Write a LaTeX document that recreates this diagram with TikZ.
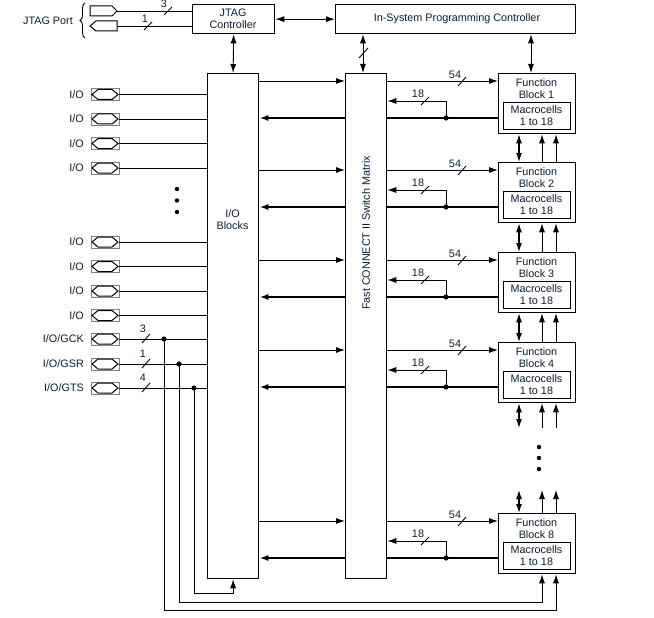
\documentclass[tikz,border=0pt]{standalone}
\usepackage{fontspec}
\setmainfont{Liberation Sans}
\usetikzlibrary{arrows.meta,decorations.pathreplacing,calc}
\definecolor{txtc}{RGB}{20,25,50}
\begin{document}
\begin{tikzpicture}[x=1pt,y=-1pt,
  txt/.style={font=\fontsize{10.8}{12}\selectfont, text=txtc, inner sep=0pt},
  box/.style={draw, line width=1.3pt, rectangle, inner sep=0pt, anchor=north west},
  thinl/.style={line width=0.9pt},
  thickl/.style={line width=1.9pt},
  arr/.style={-{Latex[length=9pt,width=6pt]}},
  barr/.style={{Latex[length=9pt,width=6pt]}-{Latex[length=9pt,width=6pt]}},
  slash/.style={line width=0.9pt},
  iopad/.pic={
    \draw[gray, line width=0.7pt] (-14,-6) rectangle (14,6);
    \draw[line width=1pt] (-13,0) -- (-7,-5) -- (7,-5) -- (13,0) -- (7,5) -- (-7,5) -- cycle;
  }
]
\fill[white] (0,0) rectangle (654,618);
\useasboundingbox (0,0) rectangle (654,618);

% main blocks
\node[box, minimum width=82pt, minimum height=29pt] (JTAG) at (192,4) {};
\node[txt, align=center] (JTAGt) at (233,19) {JTAG\\Controller};
\node[box, minimum width=240pt, minimum height=29pt] (ISP) at (335,4) {};
\node[txt] (ISPt) at (457,18.5) {In-System Programming Controller};
\node[box, minimum width=51pt, minimum height=505pt] (IOB) at (207,73) {};
\node[txt, align=center] (IOBt) at (232.5,220) {I/O\\Blocks};
\node[box, minimum width=41pt, minimum height=505pt] (SWM) at (345,73) {};
\node[txt, rotate=90] (SWMt) at (366,233) {Fast CONNECT II Switch Matrix};

% helper coordinates
\coordinate (vA) at (519,0);
\coordinate (vB) at (542,0);
\coordinate (vC) at (556,0);
\coordinate (vI) at (531,0);
\coordinate (vS) at (363,0);

% JTAG / ISP connections
\draw[thinl,barr] (JTAG.east) -- (ISP.west |- JTAG.east);
\draw[thinl,barr] (JTAG.south) -- (IOB.north);
\draw[thinl,barr] (ISP.south -| vS) -- (SWM.north -| vS);
\draw[slash] (359,58) -- (368,48);

% function blocks
\foreach \k/\T in {1/73,2/162,3/252,4/342,8/513}{
  \node[box, minimum width=77pt, minimum height=60pt] (FB\k) at (498,\T) {};
  \node[txt, align=center] (FBt\k) at (536.5,\T+16) {Function\\Block \k};
  \node[draw, line width=0.9pt, minimum width=67pt, minimum height=27pt, txt, align=center] (MC\k) at (536.5,\T+42.5) {Macrocells\\1 to 18};
  \coordinate (in\k) at (498,\T+8);
  \coordinate (ret\k) at (446,\T+28);
  \coordinate (dot\k) at (446,\T+45);
  \draw[thinl,arr] (SWM.east |- in\k) -- (in\k);
  \draw[thickl] (FB\k.west |- dot\k) -- (SWM.east |- dot\k);
  \fill (dot\k) circle (2.6pt);
  \draw[thinl,arr] (dot\k) -- (ret\k) -- (SWM.east |- ret\k);
  \draw[thinl,arr] (IOB.east |- in\k) -- (SWM.west |- in\k);
  \draw[thickl,arr] (SWM.west |- dot\k) -- (IOB.east |- dot\k);
  \draw[slash] (458,\T+13) -- (466,\T+4);
  \node[txt] (l54\k) at (455,\T+2) {54};
  \draw[slash] (421,\T+32) -- (429,\T+24);
  \node[txt] (l18\k) at (418,\T+21) {18};
}

\draw[thinl,barr] (ISP.south -| vI) -- (FB1.north -| vI);

% vertical links between function blocks
\foreach \a/\b in {1/2,2/3,3/4}{
  \draw[line width=1.2pt,barr] (FB\a.south -| vA) -- (FB\b.north -| vA);
  \draw[thinl,arr] (FB\b.north -| vB) -- (FB\a.south -| vB);
  \draw[thinl,arr] (FB\b.north -| vC) -- (FB\a.south -| vC);
}
\coordinate (gapT) at (0,428);
\coordinate (gapB) at (0,490);
\draw[line width=1.2pt,barr] (FB4.south -| vA) -- (vA |- gapT);
\draw[thinl,arr] (vB |- gapT) -- (FB4.south -| vB);
\draw[thinl,arr] (vC |- gapT) -- (FB4.south -| vC);
\draw[line width=1.2pt,barr] (vA |- gapB) -- (FB8.north -| vA);
\draw[thinl,arr] (FB8.north -| vB) -- (vB |- gapB);
\draw[thinl,arr] (FB8.north -| vC) -- (vC |- gapB);
\foreach \j/\y in {1/447,2/458,3/469}{ \fill (539,\y) coordinate (fd\j) circle (2.2pt); }

% JTAG port
\draw[line width=1pt] (90,6) -- (112,6) -- (117,11) -- (112,16) -- (90,16) -- cycle;
\draw[line width=1pt] (117,21) -- (96,21) -- (90,26) -- (96,31) -- (117,31) -- cycle;
\coordinate (jp1) at (117,11);
\coordinate (jp2) at (117,26);
\draw[thinl] (jp1) -- (JTAG.west |- jp1);
\draw[thinl] (jp2) -- (JTAG.west |- jp2);
\draw[slash] (164,15) -- (172,7);
\node[txt] (lj3) at (164,4) {3};
\draw[slash] (144,30) -- (152,22);
\node[txt] (lj1) at (145,19) {1};
\draw[decorate, decoration={brace, amplitude=5pt}, line width=0.9pt] (85,38) -- (85,3);
\node[txt, anchor=east] (jtagport) at (73,21) {JTAG Port};

% I/O pads
\foreach \i/\y/\lab in {1/94.5/{I/O},2/119/{I/O},3/143.5/{I/O},4/168/{I/O},5/242/{I/O},6/266.5/{I/O},7/291/{I/O},8/315.5/{I/O},9/339/{I/O/GCK},10/364/{I/O/GSR},11/388/{I/O/GTS}}{
  \pic (pd\i) at (105,\y) {iopad};
  \coordinate (pad\i) at (119,\y);
  \draw[thinl] (pad\i) -- (IOB.west |- pad\i);
  \node[txt, anchor=east] (pl\i) at (84,\y) {\lab};
}
\foreach \j/\y in {1/189,2/200.5,3/212}{ \fill (177,\y) coordinate (ld\j) circle (2.2pt); }

% global signals
\coordinate (gck) at (164,339);
\coordinate (gsr) at (179,364);
\coordinate (gts) at (194,388);
\coordinate (b1) at (0,610);
\coordinate (b2) at (0,602);
\coordinate (b3) at (0,593);
\fill (gck) circle (2.6pt);
\fill (gsr) circle (2.6pt);
\fill (gts) circle (2.6pt);
\draw[thinl,arr] (gck) -- (gck |- b1) -| (FB8.south -| vC);
\draw[thinl,arr] (gsr) -- (gsr |- b2) -| (FB8.south -| vB);
\draw[thinl,arr] (gts) -- (gts |- b3) -| (IOB.south);
\draw[slash] (142,343) -- (150,334);
\node[txt] (lg3) at (143,329) {3};
\draw[slash] (142,368) -- (150,359);
\node[txt] (lg1) at (143,354) {1};
\draw[slash] (142,392) -- (150,383);
\node[txt] (lg4) at (143,378) {4};
\end{tikzpicture}
\end{document}
